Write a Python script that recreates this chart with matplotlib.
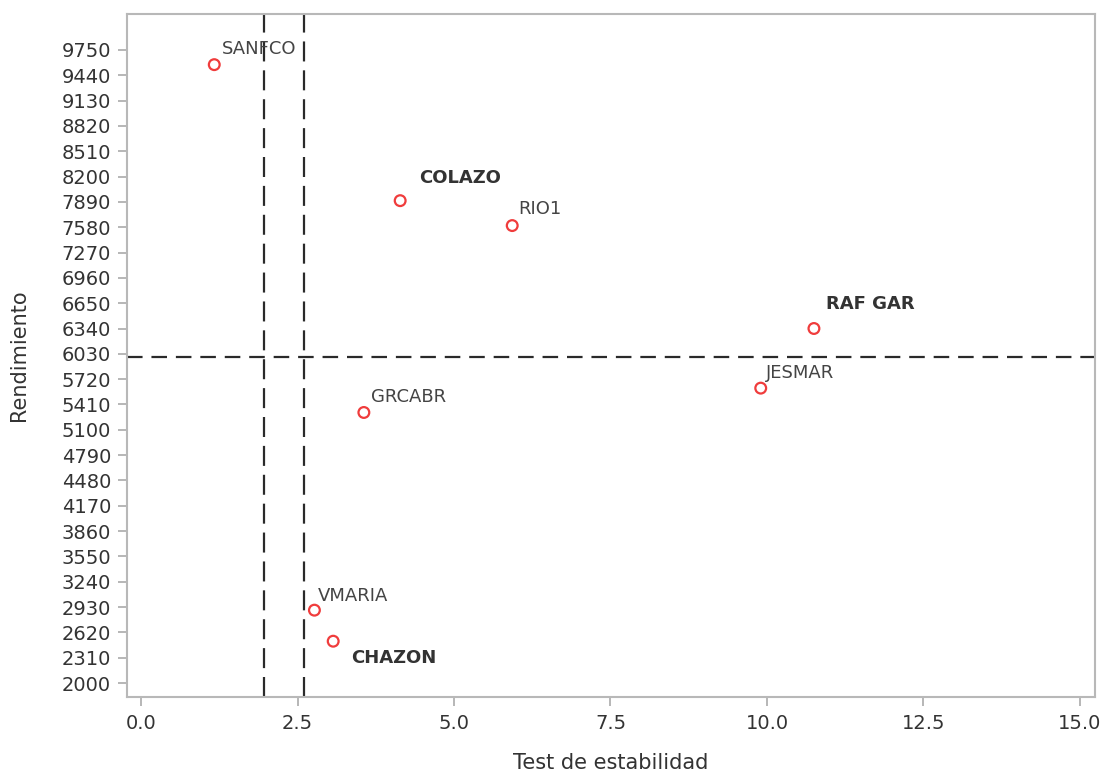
import matplotlib
matplotlib.use("Agg")
import matplotlib.pyplot as plt

names = ["SANFCO", "COLAZO", "RIO1", "RAF GAR", "JESMAR", "GRCABR", "VMARIA", "CHAZON"]
estabilidad = [1.17, 4.14, 5.93, 10.75, 9.9, 3.56, 2.77, 3.07]
rendimiento = [9570, 7905, 7600, 6340, 5610, 5312, 2892, 2512]
bold_labels = ["COLAZO", "RAF GAR", "CHAZON"]
label_offsets = [(5.5, 11.5), (14, 16), (4, 12), (9, 18), (3.6, 11), (5, 11), (2.2, 10), (13, -12)]
vlines = [1.97, 2.6]
hline = 5990
yticks = list(range(2000, 9751, 310))
xticks = [0.0, 2.5, 5.0, 7.5, 10.0, 12.5, 15.0]

plt.rcParams['font.family'] = ['DejaVu Sans']
fig = plt.figure(figsize=(11.05, 7.72), dpi=100)
ax = fig.add_axes([127/1105, 1-697/772, (1095-127)/1105, (697-14)/772])

ax.scatter(estabilidad, rendimiento, s=60, facecolors='none', edgecolors='#f03c3c', linewidths=1.6, zorder=3)
for n, x, y, off in zip(names, estabilidad, rendimiento, label_offsets):
    ax.annotate(n, (x, y), xytext=off, textcoords='offset points',
                ha='left', va='center', fontsize=13,
                color='#333333' if n in bold_labels else '#444444',
                fontweight='bold' if n in bold_labels else 'normal')

for v in vlines:
    ax.axvline(v, color='#2a2a2a', lw=1.6, dashes=(9, 4))
ax.axhline(hline, color='#2a2a2a', lw=1.6, dashes=(7, 4))

ax.set_xlim(-0.224, 15.24)
ax.set_ylim(1829, 10190)
ax.set_xticks(xticks)
ax.set_xticklabels([f"{t:.1f}" for t in xticks])
ax.set_yticks(yticks)
ax.tick_params(axis='both', colors='#aaaaaa', labelcolor='#333333', labelsize=14, length=6.5, width=1.2)
ax.tick_params(axis='x', pad=6)
ax.tick_params(axis='y', pad=5)
for s in ax.spines.values():
    s.set_color('#b8b8b8')
    s.set_linewidth(1.5)
ax.set_xlabel("Test de estabilidad", fontsize=15, color='#333333')
ax.set_ylabel("Rendimiento", fontsize=15, color='#333333')
ax.xaxis.set_label_coords(0.5, -(753 - 697) / 683)
ax.yaxis.set_label_coords((29 - 127) / 968, 0.5)

fig.savefig("out.png", dpi=100)
